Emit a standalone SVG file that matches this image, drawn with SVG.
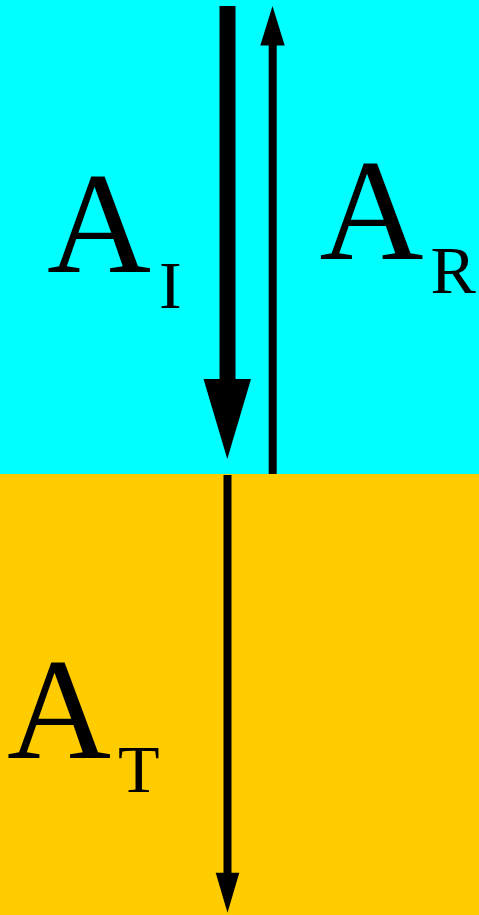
<svg xmlns="http://www.w3.org/2000/svg" width="479" height="915" viewBox="0 0 479 915">
  <style>
    text { fill: #000; }
    .big { font-size: 144px; }
    .sub { font-size: 68px; }
  </style>
  <g id="medium1"><rect x="0" y="0" width="479" height="474" fill="#00FFFF"/></g>
  <g id="medium2"><rect x="0" y="474" width="479" height="441" fill="#FFCC00"/></g>
  <g id="connectors">
    <g id="incident">
      <rect x="219.5" y="6" width="16" height="374" fill="#000"/>
      <polygon points="203.5,379 251,379 227.3,459" fill="#000"/>
    </g>
    <g id="reflected">
      <rect x="268.7" y="44" width="8" height="430" fill="#000"/>
      <polygon points="260.3,45.5 284.7,45.5 272.5,6" fill="#000"/>
    </g>
    <g id="transmitted">
      <rect x="223.5" y="475" width="8" height="399" fill="#000"/>
      <polygon points="215.7,872.7 239.3,872.7 227.5,912.7" fill="#000"/>
    </g>
  </g>
  <g id="label-AI" font-family="Liberation Serif, Times New Roman, serif">
    <text class="big" x="47" y="272">A</text>
    <text class="sub" x="159" y="307.5">I</text>
  </g>
  <g id="label-AR" font-family="'Liberation Serif', serif">
    <text class="big" x="319.5" y="259">A</text>
    <text class="sub" x="430.5" y="292.5">R</text>
  </g>
  <g id="label-AT" font-family="Times New Roman, serif">
    <text class="big" x="7" y="757.5">A</text>
    <text class="sub" x="118" y="792">T</text>
  </g>
</svg>
